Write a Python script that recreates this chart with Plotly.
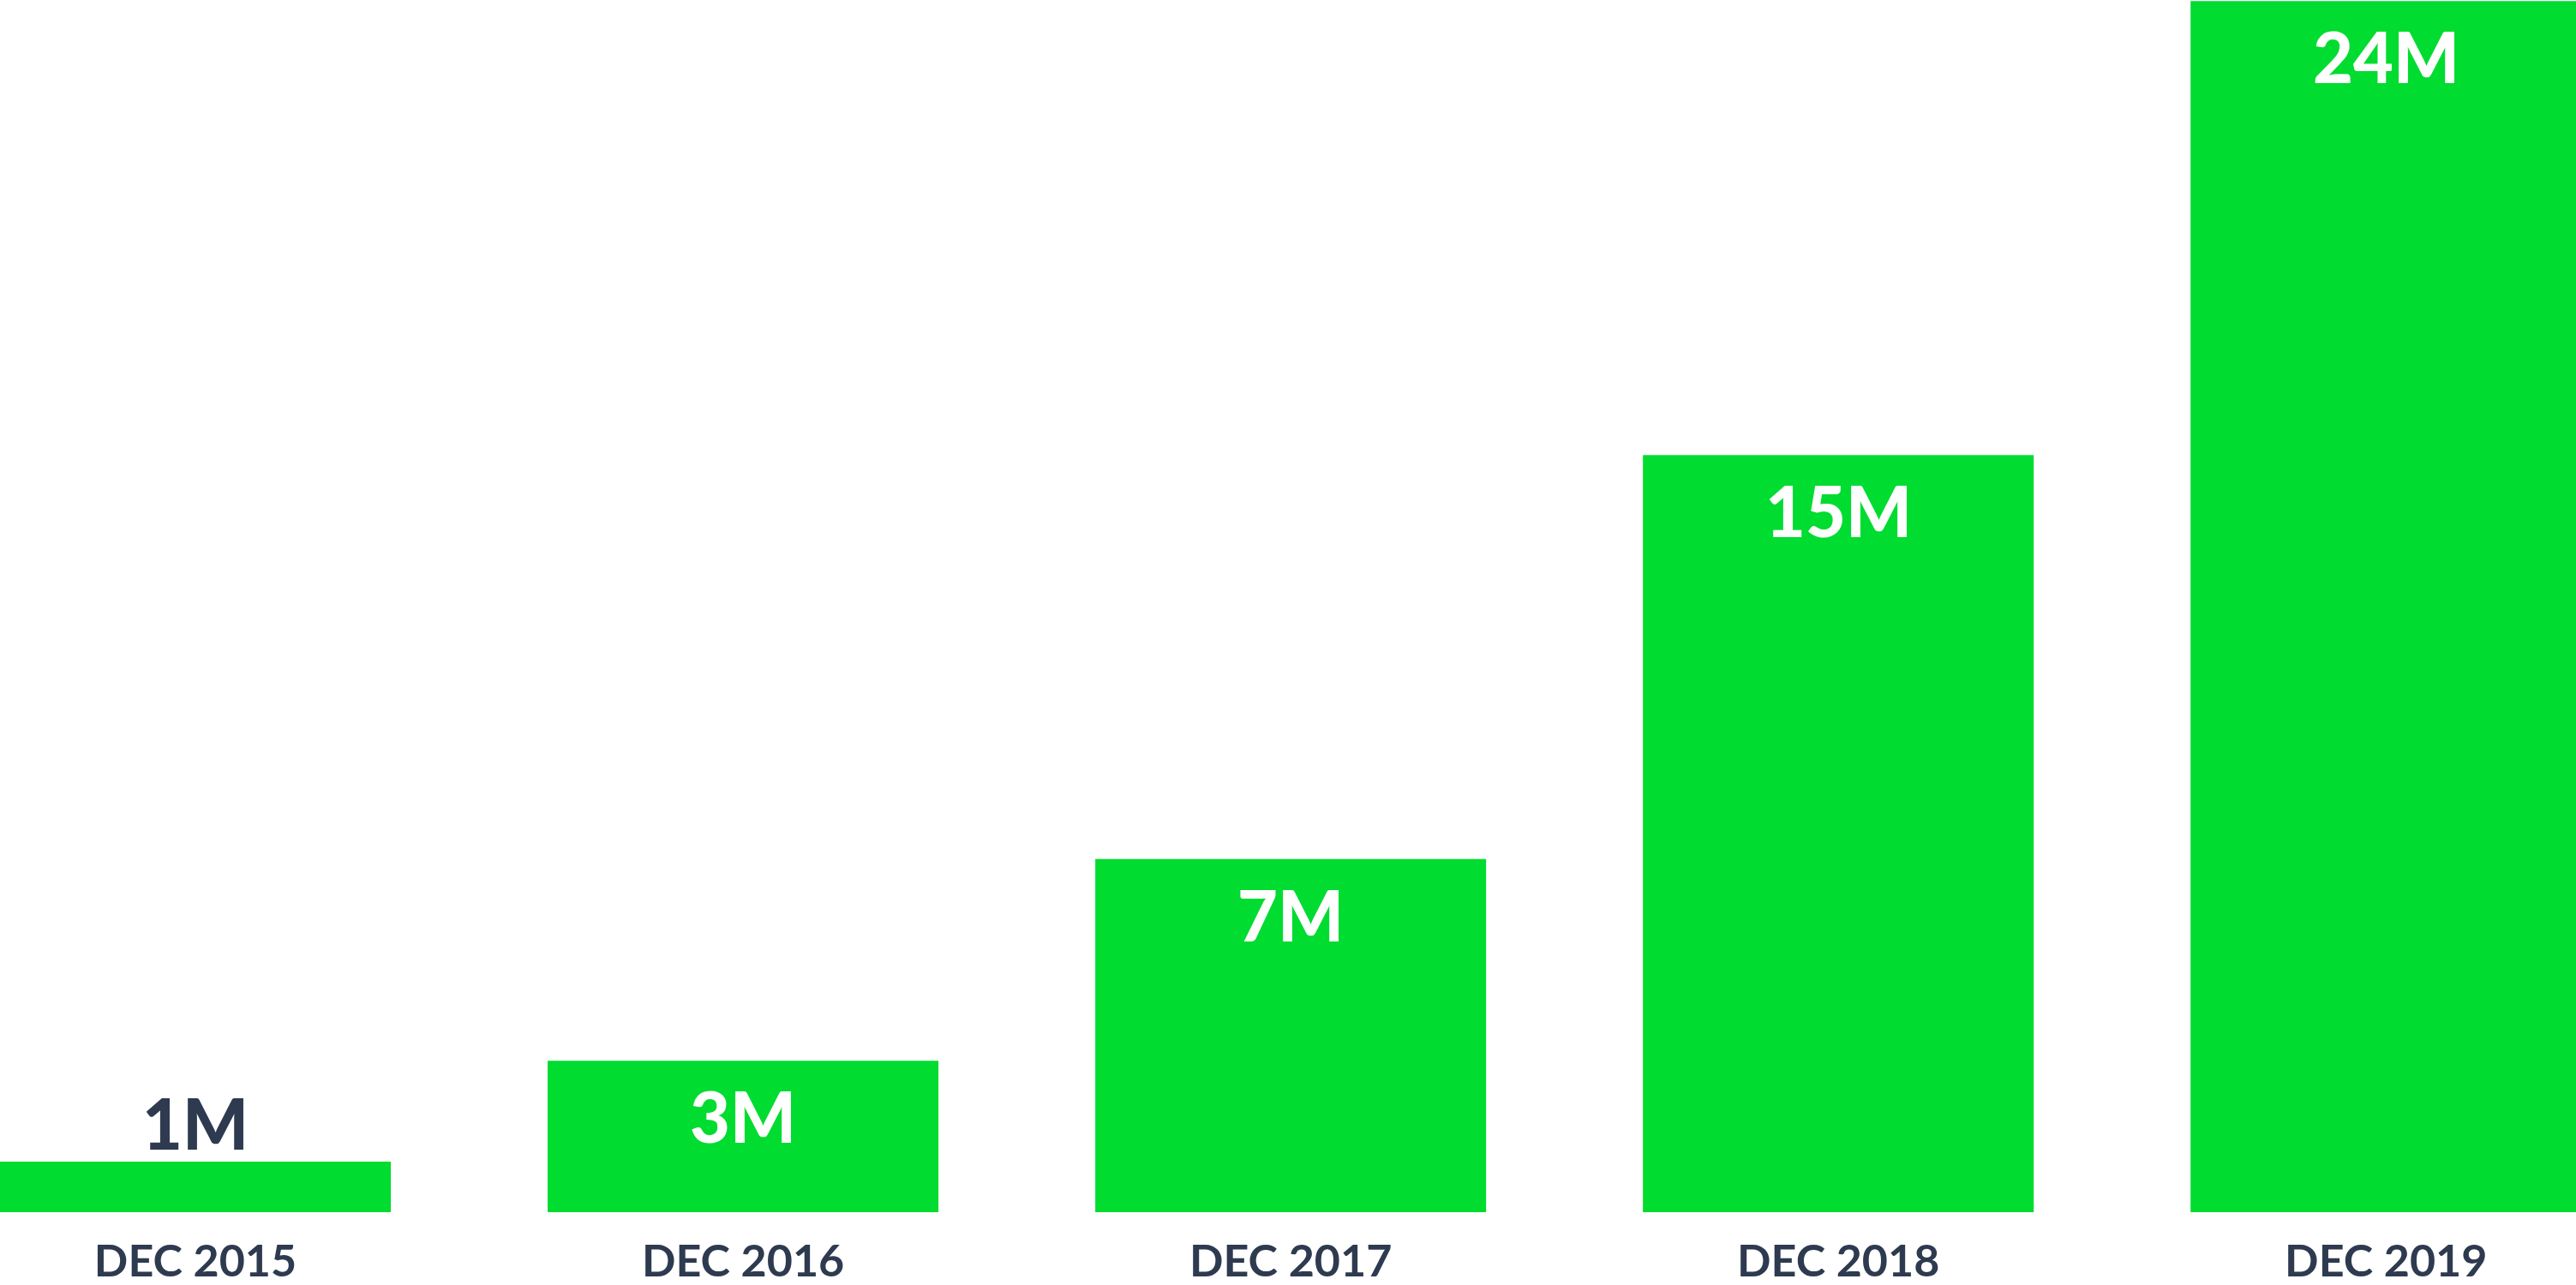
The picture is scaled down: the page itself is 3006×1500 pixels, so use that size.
import plotly.graph_objects as go

categories = ["DEC 2015", "DEC 2016", "DEC 2017", "DEC 2018", "DEC 2019"]
values = [1, 3, 7, 15, 24]
labels = [f"{v}M" for v in values]

GREEN = "#00DC30"
DARK = "#2E3A4F"
FONT = "Lato"

fig = go.Figure()
fig.add_trace(go.Bar(
    x=categories, y=values,
    marker=dict(color=GREEN, line=dict(width=0)),
    hoverinfo="skip",
))

for c, v, lab in zip(categories, values, labels):
    if v < 2:
        fig.add_annotation(x=c, y=v, text=lab, showarrow=False,
                           yanchor="bottom", yshift=-5,
                           font=dict(family=FONT, size=81, color=DARK, weight=900))
    else:
        fig.add_annotation(x=c, y=v, text=lab, showarrow=False,
                           yanchor="top", yshift=-14,
                           font=dict(family=FONT, size=81, color="white", weight=900))

fig.update_layout(
    width=3006, height=1500,
    margin=dict(l=0, r=0, t=0, b=85, pad=0, autoexpand=False),
    paper_bgcolor="white", plot_bgcolor="white",
    bargap=0.2864,
    showlegend=False,
    xaxis=dict(type="category", range=[-0.3568, 4.347], showgrid=False, zeroline=False,
               showline=False, ticks="", ticklabelstandoff=22, automargin=False,
               tickfont=dict(family=FONT, size=52, color=DARK, weight="bold")),
    yaxis=dict(range=[0, 24.02], visible=False, automargin=False),
)

fig.write_html(
    "out.html",
    config={"displayModeBar": False},
    post_script="document.body.style.margin='0';document.body.style.overflow='hidden';",
)
